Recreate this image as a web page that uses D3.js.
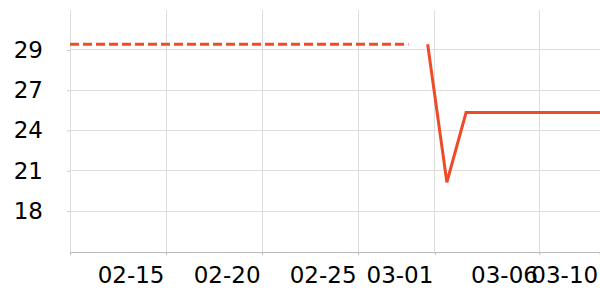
<!DOCTYPE html>
<html>
<head>
<meta charset="utf-8">
<script src="https://cdn.jsdelivr.net/npm/d3@7"></script>
<style>
  body { margin: 0; background: #fff; }
  svg { display: block; }
</style>
</head>
<body>
<svg width="600" height="300"></svg>
<script>
// Data
const historyDates = ["2023-02-10T00:00", "2023-02-27T15:00"];
const historyValues = [29.7, 29.7];
const actualDates = ["2023-02-28T15:00", "2023-03-01T15:00", "2023-03-02T15:00", "2023-03-10T15:00"];
const actualValues = [29.7, 20.1, 24.95, 24.95];

// Axis ticks
const xTickDates = ["2023-02-10T00:00", "2023-02-15T00:00", "2023-02-20T00:00", "2023-02-25T00:00",
                    "2023-03-01T00:00", "2023-03-06T10:40", "2023-03-09T14:00"];
const xTickLabels = ["", "02-15", "02-20", "02-25", "03-01", "03-06", "03-10"];
const yTickValues = [18.1, 20.9, 23.7, 26.5, 29.3];
const yTickLabels = ["18", "21", "24", "27", "29"];
const yDomain = [15.25, 32.08];

const lineColor = "#ee4b2b";
const fontFamily = "DejaVu Sans, sans-serif";
const svg = d3.select("svg");
const margin = { top: 10, right: 0, bottom: 48, left: 70 };
const width = 600 - margin.left - margin.right;
const height = 300 - margin.top - margin.bottom;

const parse = d3.isoParse;
const x = d3.scaleTime()
  .domain([parse("2023-02-10T00:00"), parse("2023-03-09T14:24")])
  .range([0, width]);
const y = d3.scaleLinear().domain(yDomain).range([height, 0]);

const g = svg.append("g").attr("transform", `translate(${margin.left},${margin.top})`);

// gridlines
g.append("g").selectAll("line")
  .data(yTickValues)
  .join("line")
  .attr("x1", 0).attr("x2", width)
  .attr("y1", d => y(d)).attr("y2", d => y(d))
  .attr("stroke", "#dddddd").attr("shape-rendering", "crispEdges");

g.append("g").selectAll("line")
  .data(xTickDates.map(parse).filter(d => x(d) < width - 2))
  .join("line")
  .attr("x1", d => x(d)).attr("x2", d => x(d))
  .attr("y1", 0).attr("y2", height)
  .attr("stroke", "#dddddd").attr("shape-rendering", "crispEdges");

// y axis
const yAxis = g.append("g")
  .call(d3.axisLeft(y).tickValues(yTickValues)
    .tickFormat((d, i) => yTickLabels[i]).tickSize(3).tickPadding(24))
  .attr("font-family", fontFamily).attr("font-size", 23);
yAxis.select(".domain").remove();
yAxis.selectAll(".tick line").attr("stroke", "#cccccc");
yAxis.selectAll("text").attr("fill", "#000");

// x axis
const xAxis = g.append("g")
  .attr("transform", `translate(0,${height})`)
  .call(d3.axisBottom(x).tickValues(xTickDates.map(parse))
    .tickFormat((d, i) => xTickLabels[i]).tickSize(3).tickPadding(12))
  .attr("font-family", fontFamily).attr("font-size", 23);
xAxis.select(".domain").attr("stroke", "#bbbbbb");
xAxis.selectAll(".tick line").attr("stroke", "#bbbbbb");
xAxis.selectAll("text")
  .attr("fill", "#000")
  .attr("text-anchor", "end").attr("dx", -2);

// lines
svg.append("clipPath").attr("id", "plot")
  .append("rect").attr("width", width).attr("height", height);

const line = d3.line().x(d => x(d[0])).y(d => y(d[1]));

g.append("path")
  .datum(historyDates.map((d, i) => [parse(d), historyValues[i]]))
  .attr("d", line)
  .attr("fill", "none").attr("stroke", lineColor)
  .attr("stroke-width", 3).attr("stroke-dasharray", "9,4");

g.append("path")
  .datum(actualDates.map((d, i) => [parse(d), actualValues[i]]))
  .attr("clip-path", "url(#plot)")
  .attr("d", line)
  .attr("fill", "none").attr("stroke", lineColor)
  .attr("stroke-width", 3).attr("stroke-linejoin", "miter");
</script>
</body>
</html>
